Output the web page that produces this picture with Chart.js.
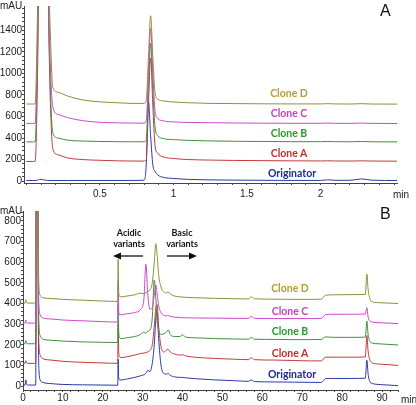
<!DOCTYPE html>
<html><head><meta charset="utf-8">
<script src="https://cdn.jsdelivr.net/npm/chart.js@4.4.1/dist/chart.umd.min.js"></script>
<style>
html,body{margin:0;padding:0;background:#fff;width:416px;height:405px;overflow:hidden;position:relative}
.box{position:absolute;left:0;width:416px}
.t{position:absolute;white-space:nowrap;line-height:1}
.lab{font:bold 10.5px Lato, sans-serif;transform:translate(-50%,-50%)}
.ax{font:10px "Liberation Sans", Arial, sans-serif;color:#222;transform:translateY(-50%)}
.big{font:16px "Liberation Sans", Arial, sans-serif;color:#111;transform:translateY(-50%)}
.ann{font:bold 9px Lato, sans-serif;color:#111;transform:translate(-50%,-50%);text-align:center}
</style></head><body>
<div class="box" style="top:0;height:205px"><canvas id="cA"></canvas></div>
<div class="box" style="top:205px;height:200px"><canvas id="cB"></canvas></div>

<div class="t ax" style="left:0;top:5px">mAU</div>
<div class="t ax" style="left:393px;top:194px">min</div>
<div class="t big" style="left:380px;top:11px">A</div>
<div class="t ax" style="left:0;top:210px">mAU</div>
<div class="t ax" style="left:401px;top:399px">min</div>
<div class="t big" style="left:380px;top:214px">B</div>

<div class="t lab" style="left:289px;top:93px;color:#b89e2c">Clone D</div>
<div class="t lab" style="left:289px;top:113px;color:#c443c4">Clone C</div>
<div class="t lab" style="left:289px;top:133px;color:#2a9a2a">Clone B</div>
<div class="t lab" style="left:289px;top:153px;color:#c3302f">Clone A</div>
<div class="t lab" style="left:292px;top:173px;color:#1f2a8c">Originator</div>

<div class="t lab" style="left:290px;top:288px;color:#b89e2c">Clone D</div>
<div class="t lab" style="left:290px;top:311px;color:#c443c4">Clone C</div>
<div class="t lab" style="left:290px;top:331px;color:#2a9a2a">Clone B</div>
<div class="t lab" style="left:290px;top:353px;color:#c3302f">Clone A</div>
<div class="t lab" style="left:292px;top:374px;color:#1f2a8c">Originator</div>

<div class="t ann" style="left:129px;top:232px">Acidic</div>
<div class="t ann" style="left:129px;top:243px">variants</div>
<div class="t ann" style="left:182px;top:232px">Basic</div>
<div class="t ann" style="left:182px;top:243px">variants</div>
<svg style="position:absolute;left:0;top:0" width="416" height="405">
  <line x1="143" y1="256" x2="119" y2="256" stroke="#111" stroke-width="1.3"/>
  <polygon points="113,256 121,252.5 121,259.5" fill="#111"/>
  <line x1="167" y1="256" x2="191" y2="256" stroke="#111" stroke-width="1.3"/>
  <polygon points="197,256 189,252.5 189,259.5" fill="#111"/>
</svg>

<script>
// ---------- Panel A (time in min, mAU) ----------
const timeA = [0, 0.04, 0.06, 0.075, 0.09, 0.11, 0.13, 0.145, 0.16, 0.18, 0.215, 0.28, 0.38, 0.5, 0.62, 0.72, 0.8, 0.815, 0.83, 0.845, 0.86, 0.875, 0.895, 0.93, 1.0, 1.1, 1.25, 1.4, 1.6, 1.8, 2.0, 2.05, 2.1, 2.2, 2.28, 2.35, 2.52];
const originatorA = [5,5,5,8,16,14,8,6,5,5,5,5,5,5,5,6,8,150,745,420,150,90,55,35,24,16,11,9,7,6,6,12,7,7,20,8,5];
const cloneA_A = [182,182,184,900,2500,3000,2800,2000,900,300,245,215,200,193,188,186,186,200,700,1145,700,330,255,225,210,200,195,192,190,188,187,188,187,186,188,186,185];
const cloneB_A = [364,364,366,1100,2600,3000,2800,2000,1000,445,400,380,372,368,366,365,365,380,850,1282,850,500,420,395,385,378,373,370,368,366,366,368,366,365,368,365,364];
const cloneC_A = [536,536,538,1300,2700,3000,2800,2100,1200,690,620,590,562,546,541,539,538,560,1000,1418,1000,650,580,560,550,545,542,540,538,537,537,539,537,536,539,536,535];
const cloneD_A = [716,716,718,1500,2800,3000,2900,2200,1500,870,825,790,755,736,728,722,722,750,1150,1536,1150,820,760,745,735,728,722,720,718,717,717,719,717,716,719,716,715];

// ---------- Panel B (time in min, mAU) ----------
const timeB = [0,0.5,0.7,0.9,1.3,2.5,3.2,3.35,3.5,3.7,3.85,4.0,4.3,5,7,10,15,20,23.75,23.85,24.0,24.3,24.8,26,28,29.5,30.3,30.8,31.3,31.8,32.4,32.9,33.3,33.6,34.0,34.6,35.4,36.0,36.4,36.9,38,39.3,40.0,40.8,43,48,53,56.5,57.3,58,63,68,72,74.8,75.8,78,82,85.8,86.2,86.5,87,87.6,89,91.5,94];
const originatorB = [5,5,30,8,5,5,5,1400,1500,1300, 300,80,30,18,12,8,6,5,4,130, 40,30,30,34,42,50,55,62,76,70, 110,200,330,360,230,100,60,58,62,52, 45,42,42,40,36,30,26,23,30,22, 20,19,18,18,36,37,37,38,125,60, 20,12,8,5,2];
const cloneA_B = [110,110,123,112,110,110,111,1400,1500,1300, 400,200,150,133,126,120,115,112,110,300, 160,140,138,142,150,158,160,162,166,172, 200,290,380,395,290,190,165,175,178,165, 155,150,152,146,140,134,130,128,137,128, 126,124,122,122,140,140,140,141,245,170, 125,112,107,104,100];
const cloneB_B = [205,205,220,207,205,205,206,1400,1500,1300, 480,300,245,228,222,218,214,212,211,400, 260,232,230,234,240,250,262,256,266,270, 330,514,420,320,270,250,254,262,272,250, 240,240,248,237,234,230,228,227,236,227, 226,225,225,226,238,236,236,237,315,250, 215,208,205,202,199];
const cloneC_B = [305,305,320,307,305,305,306,1400,1500,1300, 560,390,345,330,325,320,316,312,310,510, 360,345,346,350,356,372,420,590,440,372, 380,440,490,450,390,355,342,340,342,338, 334,332,331,331,330,329,328,328,338,328, 327,327,327,328,346,348,348,349,380,335, 315,310,307,305,303];
const cloneD_B = [402,402,418,404,402,402,403,1400,1500,1300, 650,480,440,428,424,420,416,412,410,615, 450,434,432,436,442,450,448,452,458,465, 500,600,690,640,540,480,455,452,456,446, 436,432,431,430,428,425,423,422,432,423, 421,420,420,421,440,442,443,444,542,470, 420,408,404,402,400];

const seriesNames = ['Originator','Clone A','Clone B','Clone C','Clone D'];
const lineColors = ['#2b3aa6','#c23b3b','#3f8f3f','#cc47cc','#8f8f3a'];

function pts(t, v){ return t.map((x,i)=>({x:x, y:v[i]})); }
function makeSets(t, arrs){
  return arrs.map((v,i)=>({
    label: seriesNames[i], data: pts(t,v), borderColor: lineColors[i],
    borderWidth: 1, pointRadius: 0, cubicInterpolationMode: 'monotone',
    fill: false, order: 4 - i
  }));
}
const tickFont = {family:'"Liberation Sans", Arial, sans-serif', size:10};
function axisCommon(){
  return {
    grid:{drawOnChartArea:false, drawTicks:true, tickLength:2, color:'#444'},
    border:{display:true, color:'#444', width:1}
  };
}
function build(id, t, arrs, o){
  return new Chart(document.getElementById(id), {
    type:'line',
    data:{datasets: makeSets(t, arrs)},
    options:{
      responsive:true, maintainAspectRatio:false, animation:false,
      layout:{padding:o.pad},
      plugins:{legend:{display:false}, tooltip:{enabled:false}},
      scales:{
        x:Object.assign(axisCommon(), {
          type:'linear', min:o.xmin, max:o.xmax,
          afterFit:(s)=>{ s.height = o.xh; },
          ticks:{stepSize:o.xstep, autoSkip:false, maxRotation:0, includeBounds:false,
            padding:o.xpad, color:'#222', font:tickFont, callback:o.xcb}
        }),
        y:Object.assign(axisCommon(), {
          type:'linear', min:o.ymin, max:o.ymax,
          afterFit:(s)=>{ s.width = o.yw; },
          ticks:{stepSize:o.ystep, autoSkip:false, includeBounds:false,
            padding:0, color:'#222', font:tickFont, callback:o.ycb}
        })
      }
    }
  });
}
build('cA', timeA, [originatorA, cloneA_A, cloneB_A, cloneC_A, cloneD_A], {
  pad:{top:2,right:19,left:0,bottom:0}, xmin:-0.016, xmax:2.52, xstep:0.1, xh:22, xpad:3,
  xcb:(v)=>{ const d=v*2; return (v>0.01 && v<2.01 && Math.abs(d-Math.round(d))<1e-6) ? String(+v.toFixed(1)) : ''; },
  ymin:-18, ymax:1627, ystep:40, yw:24,
  ycb:(v)=> (v>=0 && v<=1400 && Math.round(v)%200===0) ? String(Math.round(v)) : ''
});
build('cB', timeB, [originatorB, cloneA_B, cloneB_B, cloneC_B, cloneD_B], {
  pad:{top:3,right:18,left:0,bottom:0}, xmin:0, xmax:94, xstep:2, xh:15, xpad:0,
  xcb:(v)=> (v<=90 && Math.round(v)%10===0) ? String(Math.round(v)) : '',
  ymin:-19, ymax:848, ystep:20, yw:23,
  ycb:(v)=> (v>=0 && v<=800 && Math.round(v)%100===0) ? String(Math.round(v)) : ''
});
</script>
</body></html>
